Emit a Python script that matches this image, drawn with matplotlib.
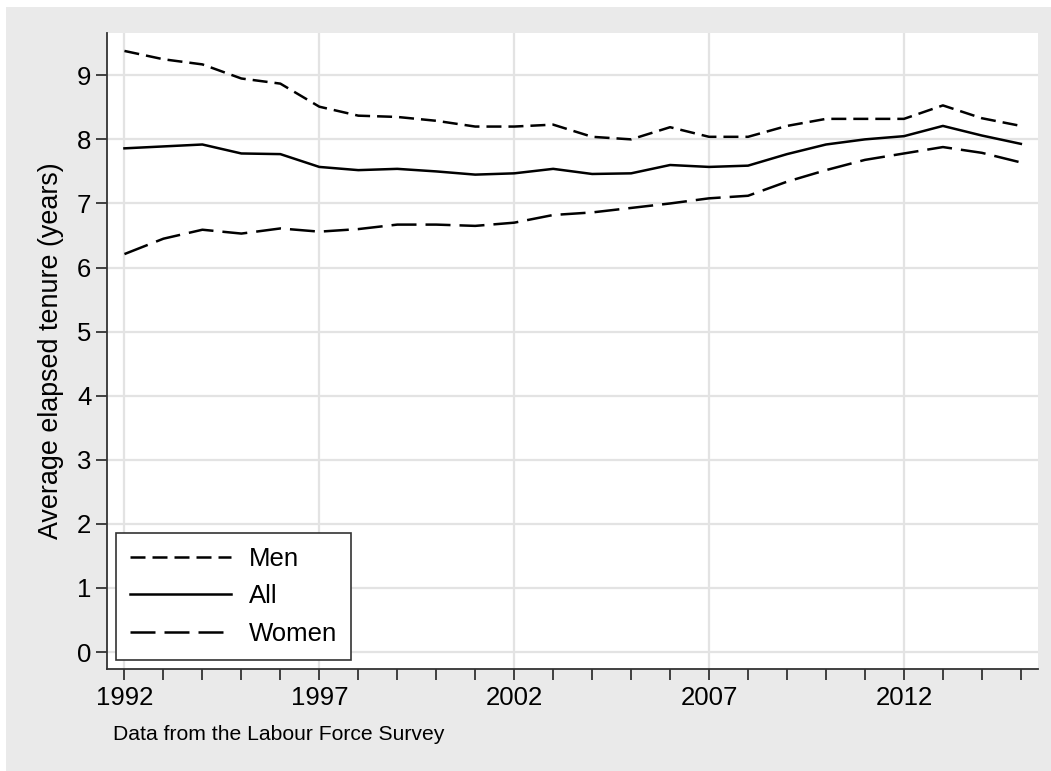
import matplotlib
matplotlib.use("Agg")
import matplotlib.pyplot as plt
from matplotlib.patches import Rectangle
from matplotlib.ticker import MultipleLocator, FixedLocator

years = list(range(1992, 2016))
men = [9.38, 9.25, 9.17, 8.95, 8.87, 8.51, 8.37, 8.35, 8.29, 8.20, 8.20, 8.23,
       8.04, 8.00, 8.19, 8.04, 8.04, 8.21, 8.32, 8.32, 8.32, 8.53, 8.33, 8.21]
all_ = [7.86, 7.89, 7.92, 7.78, 7.77, 7.57, 7.52, 7.54, 7.50, 7.45, 7.47, 7.54,
        7.46, 7.47, 7.60, 7.57, 7.59, 7.77, 7.92, 8.00, 8.05, 8.21, 8.06, 7.93]
women = [6.21, 6.45, 6.59, 6.53, 6.61, 6.56, 6.60, 6.67, 6.67, 6.65, 6.70, 6.82,
         6.86, 6.93, 7.00, 7.08, 7.12, 7.34, 7.52, 7.68, 7.78, 7.88, 7.79, 7.64]
major_years = [1992, 1997, 2002, 2007, 2012]
y_ticks = list(range(0, 10))

plt.rcParams['font.family'] = ['Liberation Sans', 'DejaVu Sans']

W, H = 1051, 771
fig = plt.figure(figsize=(W / 100, H / 100), dpi=100, facecolor='white')
bg = '#EAEAEA'
fig.patches.append(Rectangle((6 / W, 0), 1 - 6 / W, 1 - 7 / H, transform=fig.transFigure,
                             facecolor=bg, edgecolor='none', zorder=-10))

ax = fig.add_axes([107.3 / W, 1 - 669 / H, (1038 - 107.3) / W, (669 - 33) / H])
ax.set_facecolor('white')

lw = 1.8
ax.plot(years, men, color='black', lw=lw, dashes=(6, 2.8), label='Men', zorder=3)
ax.plot(years, all_, color='black', lw=lw, label='All', zorder=3)
ax.plot(years, women, color='black', lw=lw, dashes=(10, 3.6), label='Women', zorder=3)

ax.set_xlim(1991.56, 2015.44)
ax.set_ylim(-0.265, 9.66)

ax.xaxis.set_major_locator(FixedLocator(major_years))
ax.xaxis.set_minor_locator(MultipleLocator(1))
ax.yaxis.set_major_locator(FixedLocator(y_ticks))

ax.grid(True, which='major', color='#E3E3E3', lw=1.6, zorder=0)
ax.set_axisbelow(True)

for s in ['top', 'right']:
    ax.spines[s].set_visible(False)
for s in ['left', 'bottom']:
    ax.spines[s].set_color('#333333')
    ax.spines[s].set_linewidth(1.3)

ax.tick_params(axis='both', which='both', direction='out', length=8, width=1.3,
               color='#333333', labelsize=18.5, labelcolor='black')
ax.tick_params(axis='y', pad=3.5)
ax.tick_params(axis='x', pad=4)

ax.set_ylabel('Average elapsed tenure (years)', fontsize=19.4)
ax.yaxis.set_label_coords(-0.047, 0.5)

leg = ax.legend(loc='lower left', bbox_to_anchor=(9 / 930.7, 9 / 636), borderaxespad=0,
                fontsize=18.5, handlelength=3.9, handletextpad=0.7, labelspacing=0.53,
                frameon=True, fancybox=False, edgecolor='#333333', borderpad=0.55)
leg.get_frame().set_linewidth(1.2)
leg.get_frame().set_facecolor('white')
leg.get_frame().set_alpha(1)

fig.text(113 / W, 1 - 740 / H, 'Data from the Labour Force Survey', fontsize=15.2,
         va='baseline', ha='left')

fig.savefig('out.png', dpi=100, facecolor=fig.get_facecolor())
